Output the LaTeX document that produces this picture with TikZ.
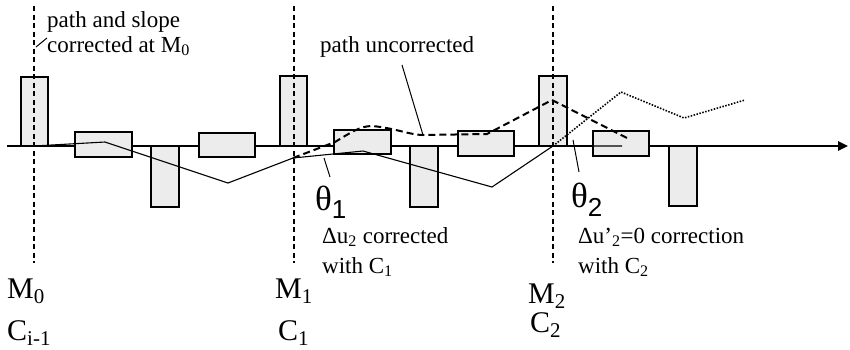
\documentclass[tikz,border=0pt]{standalone}
\usepackage{fontspec}
\setmainfont{Liberation Serif}
\newfontfamily\subsans{Liberation Sans}
\usetikzlibrary{arrows.meta}

\begin{document}
\begin{tikzpicture}[
                x=1pt, y=-1pt,
                    bar/.style = {draw, fill=gray!15, line width=1.2pt},
                    axis/.style = {line width=2.4pt, -{Triangle[length=10pt, width=9pt]}},
                    marker/.style = {line width=2pt, dash pattern=on 5pt off 3.5pt},
                    corrected/.style = {line width=1.1pt},
                    uncorrected/.style = {line width=2pt, dash pattern=on 7pt off 4pt},
                    predicted/.style = {line width=1.6pt, dash pattern=on 1.5pt off 1.5pt},
                    leader/.style = {line width=1pt},
                    txt/.style = {anchor=base west, inner sep=0pt, font=\fontsize{23}{27}\selectfont},
                    big/.style = {anchor=base west, inner sep=0pt, font=\fontsize{30}{34}\selectfont},
                    angle/.style = {anchor=base west, inner sep=0pt, font=\fontsize{35}{39}\selectfont}
                ]
                \useasboundingbox (0,0) rectangle (850,349);

                % measurement points on the axis
                \coordinate (m0) at (34,146);
                \coordinate (m1) at (294,146);
                \coordinate (m2) at (553,146);

                \draw[axis] (7,146) -- (848,146);

                % stations above, below and across the axis
                \draw[bar] (21,77) rectangle (48,146);
                \draw[bar] (280,76) rectangle (307,146);
                \draw[bar] (539,76) rectangle (567,146);
                \draw[bar] (151,146) rectangle (179,207);
                \draw[bar] (410,146) rectangle (438,207);
                \draw[bar] (669,146) rectangle (697,206);
                \draw[bar] (75,132) rectangle (132,157);
                \draw[bar] (199,133) rectangle (255,157);
                \draw[bar] (334,130) rectangle (391,154);
                \draw[bar] (458,131) rectangle (514,156);
                \draw[bar] (593,131) rectangle (649,156);

                \draw[marker] (m0 |- 0,6) -- (m0 |- 0,263);
                \draw[marker] (m1 |- 0,6) -- (m1 |- 0,263);
                \draw[marker] (m2 |- 0,6) -- (m2 |- 0,263);

                % corrected path
                \coordinate (p1) at (293,158);
                \coordinate (p2) at (363,151);
                \draw[corrected] (m0) -- (105,142) -- (228,183) -- (p1) -- (p2) -- (492,187) -- (m2) -- (622,146);

                % uncorrected path
                \coordinate (uc) at (423,135);
                \draw[uncorrected] (p1) -- (335,142) .. controls (350,133) and (360,126) .. (372,126)
                    .. controls (395,128) and (410,135) .. (uc) -- (487,134) -- (552,100) -- (627,138);

                % continuation after M2
                \draw[predicted] (m2) -- (621,92) -- (684,118) -- (745,100);

                % labels
                \node[txt] (slope1) at (47,27) {path and slope};
                \node[txt] (slope2) at (47,52) {corrected at M\textsubscript{0}};
                \coordinate (tick) at (36,47);
                \draw[leader] (tick) -- ++(11,-9);

                \node[txt] (uncor) at (320,52) {path uncorrected};
                \coordinate (uctip) at (402,65);
                \draw[leader] (uctip) -- (uc);

                \node[angle] (theta1) at (315,210) {θ\raisebox{-8pt}{\subsans\fontsize{26}{30}\selectfont 1}};
                \coordinate (t1a) at (324,158);
                \coordinate (t1b) at (330,177);
                \draw[leader] (t1a) -- (t1b);

                \node[angle] (theta2) at (571,207) {θ\raisebox{-9pt}{\subsans\fontsize{26}{30}\selectfont 2}};
                \coordinate (t2a) at (573,140);
                \coordinate (t2b) at (579,172);
                \draw[leader] (t2a) -- (t2b);

                \node[txt] (du1) at (322,243) {Δu\textsubscript{2} corrected};
                \node[txt] (with1) at (322,273) {with C\textsubscript{1}};
                \node[txt] (du2) at (578,243) {Δu’\textsubscript{2}=0 correction};
                \node[txt] (with2) at (578,273) {with C\textsubscript{2}};

                \node[big] (M0) at (7,298) {M\textsubscript{0}};
                \node[big] (C0) at (7,340) {C\textsubscript{i-1}};
                \node[big] (M1) at (275,298) {M\textsubscript{1}};
                \node[big] (C1) at (278,340) {C\textsubscript{1}};
                \node[big] (M2) at (528,303) {M\textsubscript{2}};
                \node[big] (C2) at (530,332) {C\textsubscript{2}};

            \end{tikzpicture}
\end{document}
